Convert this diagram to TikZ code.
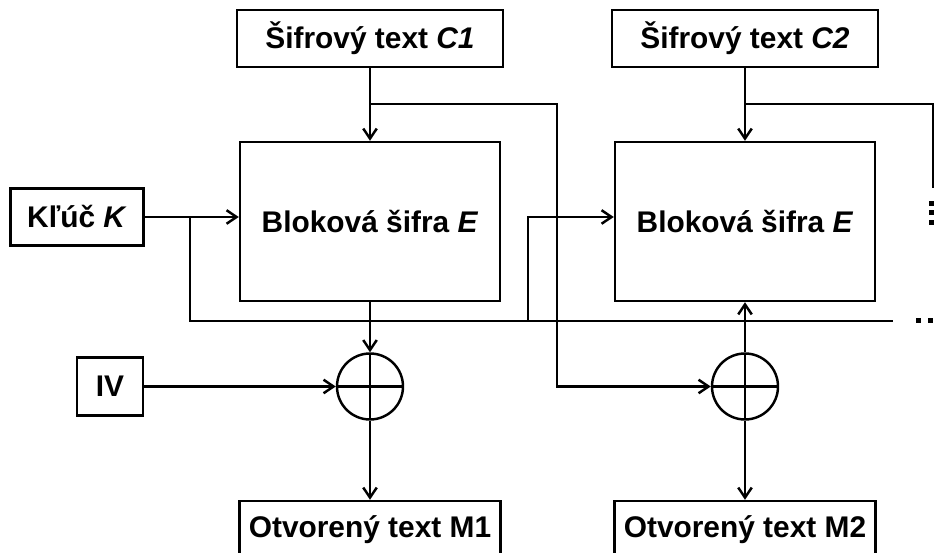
\documentclass[tikz,border=0pt]{standalone}
\usepackage{fontspec}
\setmainfont{Liberation Sans}
\usetikzlibrary{arrows.meta}
\tikzset{
  tbox/.style={rectangle,draw=black,line width=1.4pt,minimum height=1.14cm,inner sep=0pt,
    font=\fontsize{17}{20}\selectfont\bfseries},
  ebox/.style={tbox,minimum width=5.2cm,minimum height=3.18cm},
  xmark/.style={circle,draw=black,line width=1.4pt,minimum size=1.32cm,inner sep=0pt,
    path picture={\draw[line width=1.4pt]
      (path picture bounding box.north) -- (path picture bounding box.south)
      (path picture bounding box.west) -- (path picture bounding box.east);}},
  wire/.style={line width=1.4pt},
}

\begin{document}
\begin{tikzpicture}[>={Straight Barb[length=2mm,width=2.7mm]}]
  \useasboundingbox (0,0) rectangle (18.7,11.06);

  % ciphertext blocks
  \node[tbox,minimum width=5.32cm] (c1) at (7.40,10.29) {Šifrový text \textit{C1}};
  \node[tbox,minimum width=5.32cm] (c2) at (14.90,10.29) {Šifrový text \textit{C2}};
  % key and IV
  \node[tbox,minimum width=2.66cm] (key) at (1.54,6.72) {Kľúč \textit{K}};
  \node[tbox,minimum width=1.32cm,minimum height=1.16cm] (iv) at (2.20,3.33) {IV};
  % block cipher
  \node[ebox] (e1) at (7.40,6.63) {Bloková šifra \textit{E}};
  \node[ebox] (e2) at (14.90,6.63) {Bloková šifra \textit{E}};
  % xor
  \node[xmark] (x1) at (7.40,3.33) {};
  \node[xmark] (x2) at (14.90,3.33) {};
  % plaintext blocks
  \node[tbox,minimum width=5.22cm] (m1) at (7.40,0.47) {Otvorený text M1};
  \node[tbox,minimum width=5.22cm] (m2) at (14.90,0.47) {Otvorený text M2};

  % key bus
  \coordinate (kb) at (3.80,4.64);
  \coordinate (k2) at (10.56,4.64);
  \coordinate (ke) at (17.86,4.64);
  \draw[wire,->] (key.east) -- (key.east -| e1.west);
  \draw[wire] (key.east -| kb) -- (kb) -- (ke);
  \draw[wire,->] (k2) |- (key.east -| e2.west);

  % ciphertext into the cipher and over to the next xor
  \coordinate (c1r) at (11.14,8.98);
  \coordinate (c2r) at (18.66,8.98);
  \coordinate (c2e) at (18.66,7.30);
  \draw[wire,->] (c1) -- (e1);
  \draw[wire,->] (c2) -- (e2);
  \draw[wire,->] (c1 |- c1r) -- (c1r) |- (x2.west);
  \draw[wire] (c2 |- c2r) -- (c2r) -- (c2e);

  % xor in and out
  \draw[wire,->] (e1) -- (x1);
  \draw[wire,->] (iv) -- (x1);
  \draw[wire,->] (x1) -- (m1);
  \draw[wire,->] (x2) -- (e2);
  \draw[wire,->] (x2) -- (m2);

  % continuation dots
  \foreach \y in {6.98,6.80,6.60}
    \fill (18.62,\y) ++(-0.05,-0.05) rectangle ++(0.1,0.1);
  \foreach \x in {18.36,18.60}
    \fill (\x,4.64) ++(-0.05,-0.05) rectangle ++(0.1,0.1);
\end{tikzpicture}
\end{document}
